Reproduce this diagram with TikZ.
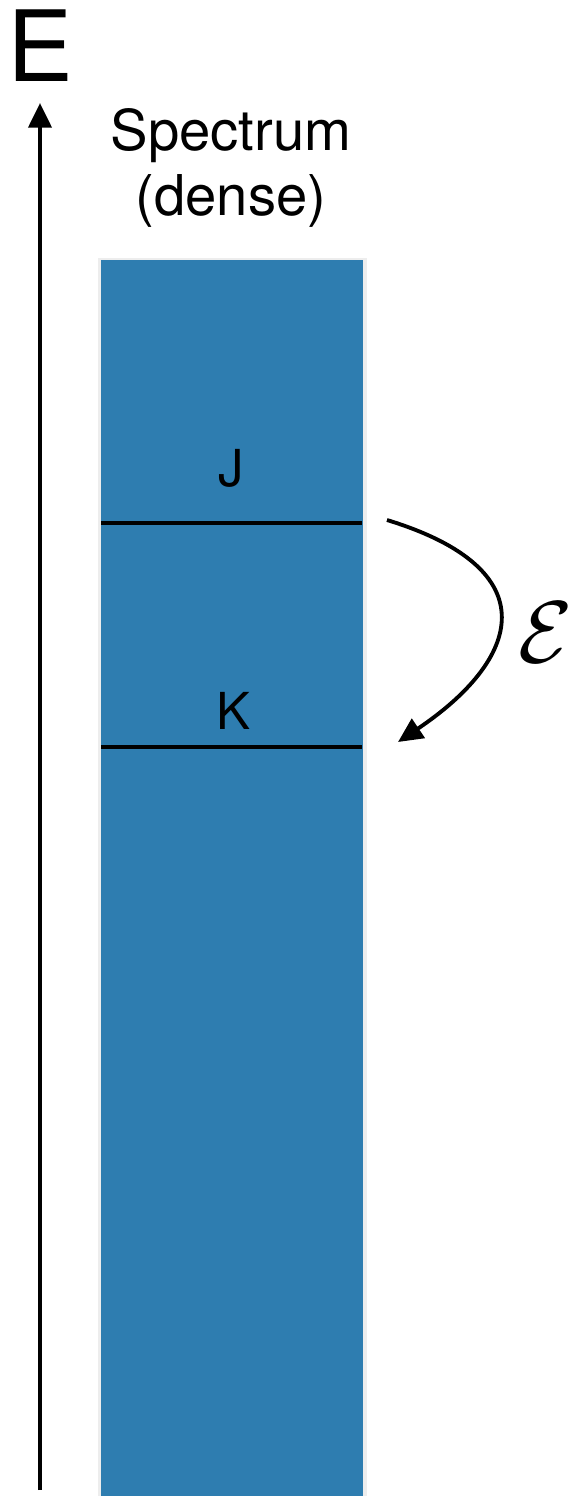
\documentclass[tikz,border=0pt]{standalone}
\usepackage{fontspec}
\setmainfont{TeX Gyre Heros}
\usetikzlibrary{arrows.meta}
\definecolor{specblue}{RGB}{46,125,176}
\tikzset{
  level/.style={line width=2pt},
  levellabel/.style={font=\fontsize{29}{32}\selectfont},
  trans/.style={line width=2.2pt,-{Triangle[length=14pt,width=13pt]}}
}
\begin{document}
\begin{tikzpicture}[x=0.02cm,y=-0.02cm]
\useasboundingbox (0,0) rectangle (573,1496);
% energy axis
\coordinate (axisbot) at (40,1490);
\coordinate (axistop) at (40,103);
\draw[line width=2.4pt,-{Triangle[length=14pt,width=13pt]}] (axisbot) -- (axistop);
\node (elabel) at (40,46) {\fontsize{56}{60}\selectfont E};
% spectrum band
\fill[black!7] (98,258) rectangle (367,1496);
\fill[specblue] (101,260) rectangle (363,1496);
\node[align=center,font=\fontsize{32}{37}\selectfont] (spec) at (231,168) {Spectrum\\(dense)};
% levels
\coordinate (jL) at (101,523);
\coordinate (jR) at (362,523);
\coordinate (kL) at (101,747);
\coordinate (kR) at (362,747);
\draw[level] (jL) -- (jR);
\draw[level] (kL) -- (kR);
\node[levellabel] (J) at (231,468) {J};
\node[levellabel] (K) at (233,711) {K};
% transition
\coordinate (from) at (387,520);
\coordinate (to) at (398,742);
\draw[trans] (from) .. controls (550,570) and (520,660) .. (to);
\node[scale=5] (eps) at (546,632) {$\mathcal{E}$};
\end{tikzpicture}
\end{document}
